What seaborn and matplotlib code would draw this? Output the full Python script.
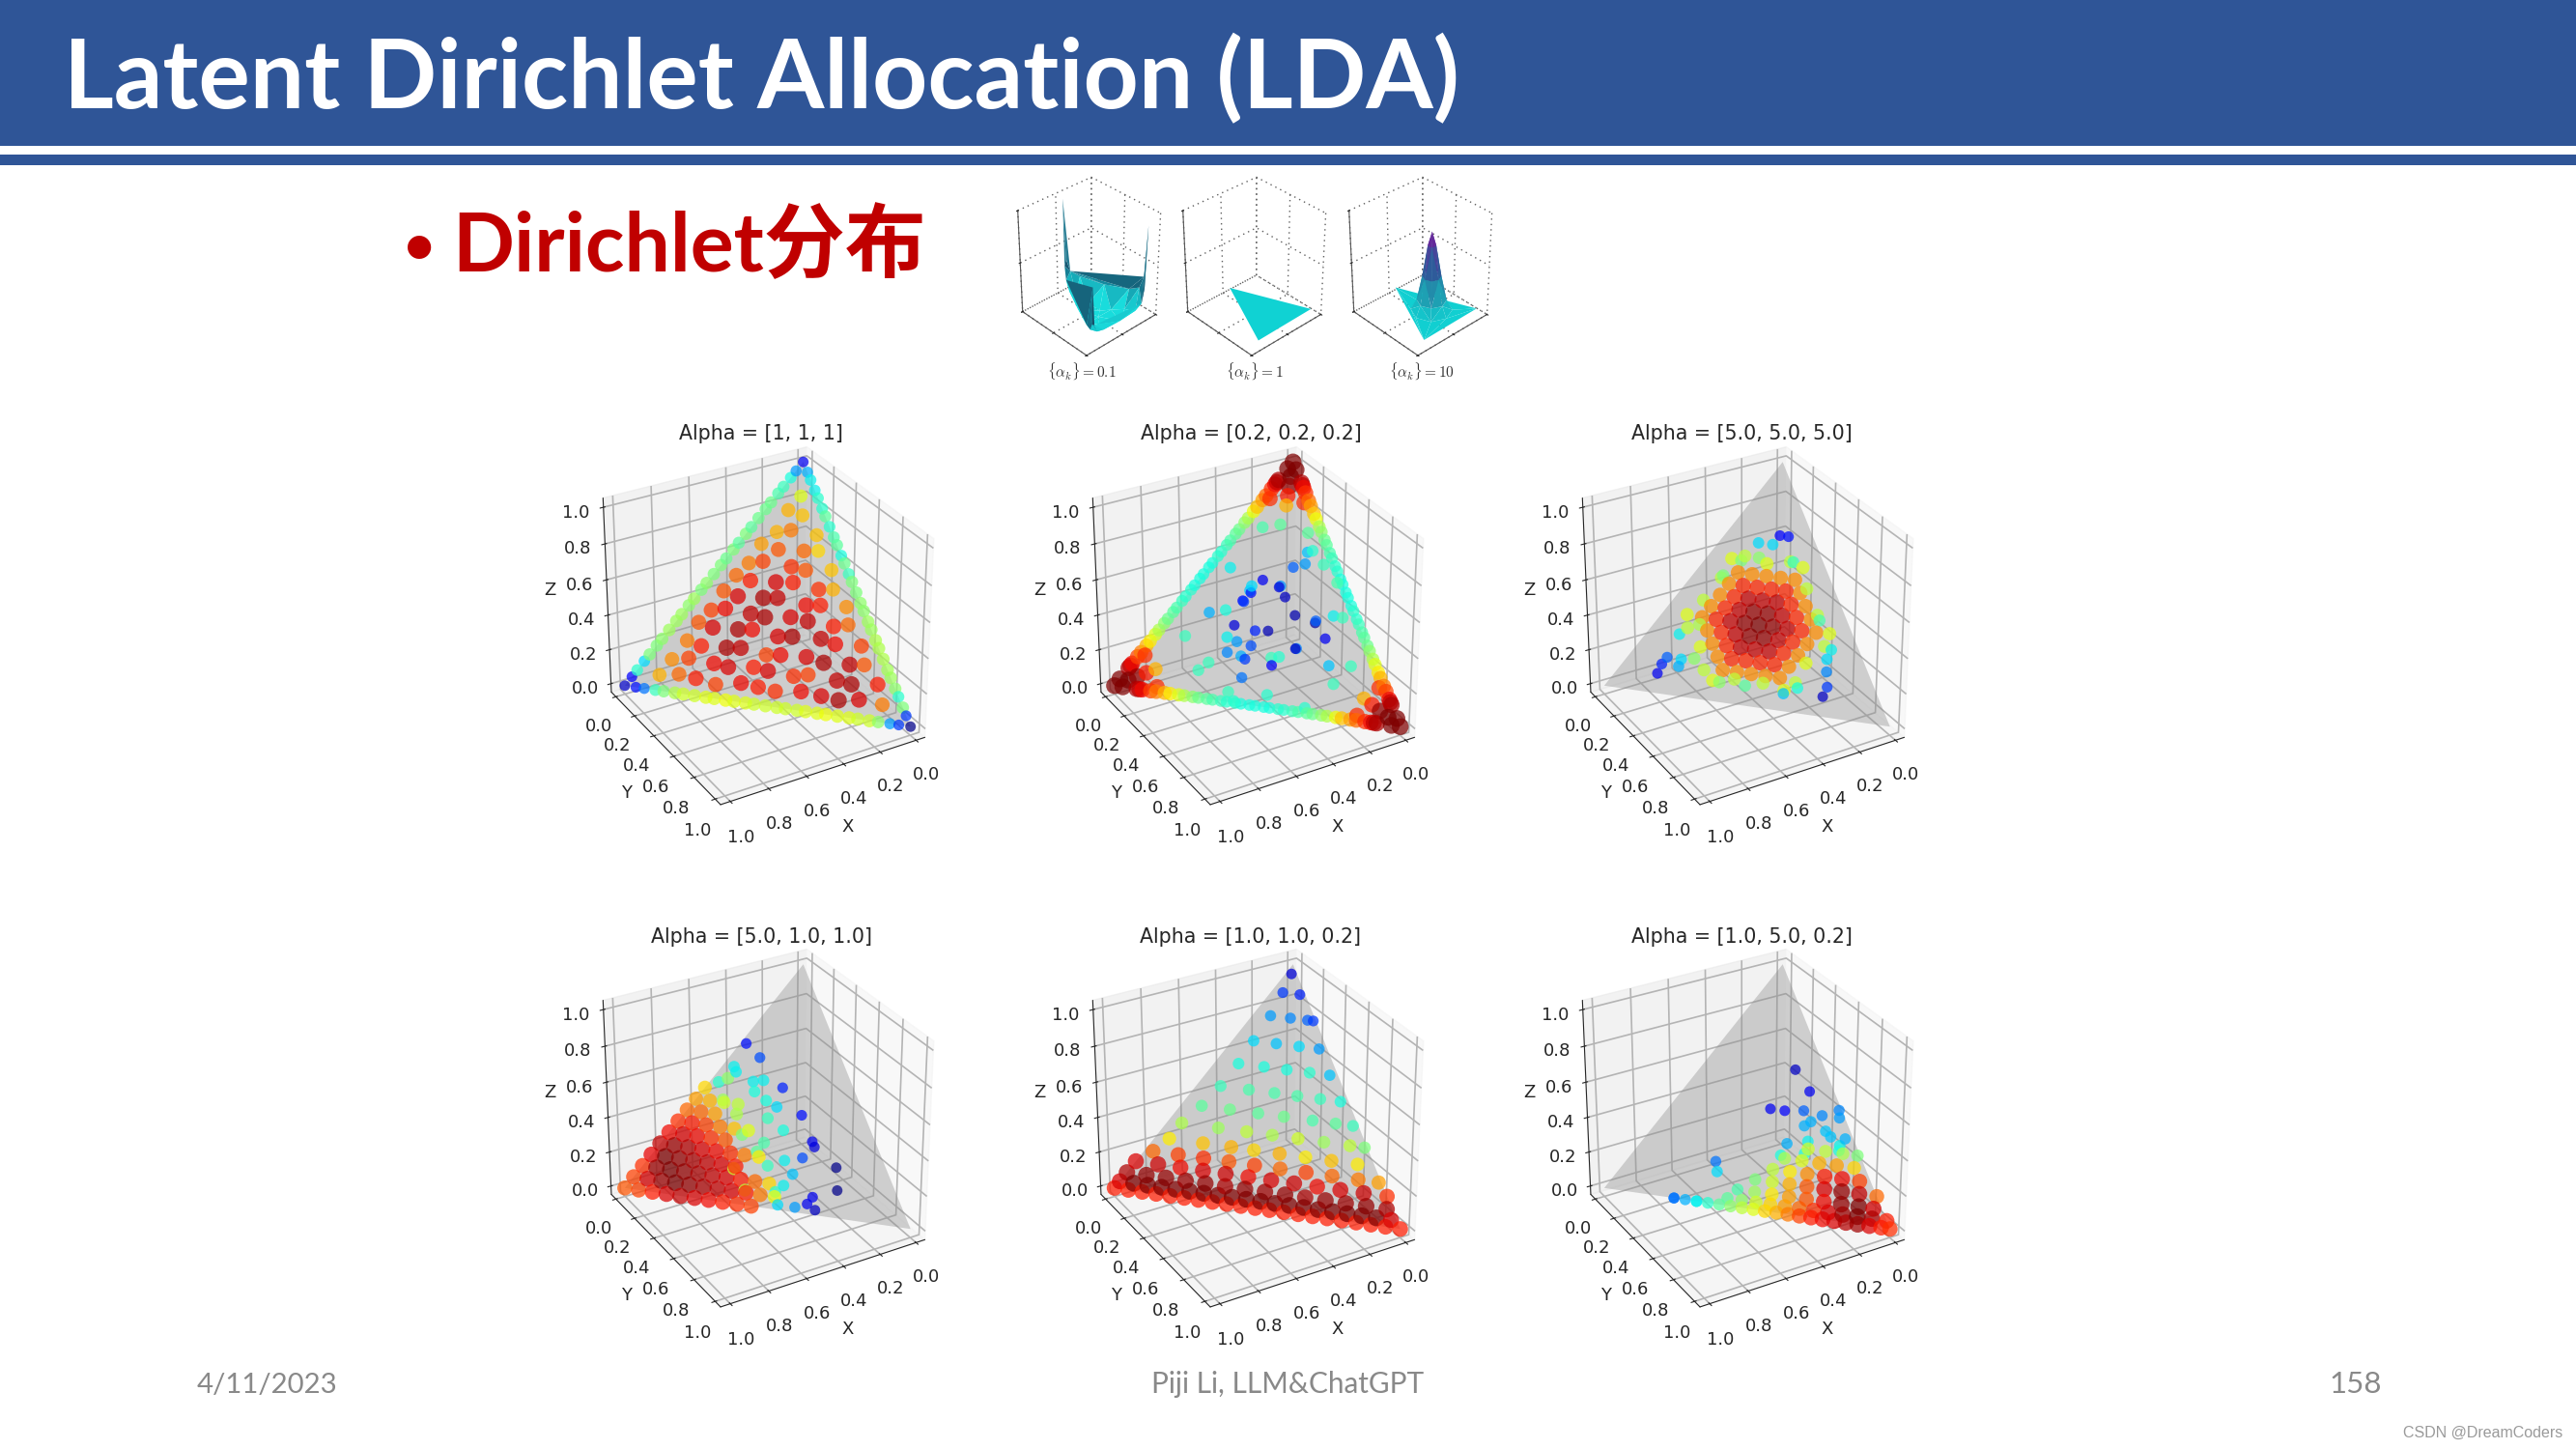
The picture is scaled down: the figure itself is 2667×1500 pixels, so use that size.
import numpy as np
import matplotlib
matplotlib.use("Agg")
import matplotlib.pyplot as plt
from matplotlib.colors import LinearSegmentedColormap
from matplotlib.patches import Rectangle
from mpl_toolkits.mplot3d.art3d import Poly3DCollection
import seaborn as sns

TITLE = "Latent Dirichlet Allocation (LDA)"
BULLET = "Dirichlet分布"
FOOT_DATE, FOOT_NAME, FOOT_PAGE = "4/11/2023", "Piji Li, LLM&ChatGPT", "158"
WATERMARK = "CSDN @DreamCoders"
TICKS = [0.0, 0.2, 0.4, 0.6, 0.8, 1.0]
SIMPLEX_X = [1, 0, 0]
SIMPLEX_Y = [0, 1, 0]
SIMPLEX_Z = [0, 0, 1]

P1_TITLE = "Alpha = [1, 1, 1]"
P1_X = [100,93,86,79,71,64,57,50,43,36,29,21,14,7,0, 96,89,82,75,68,61,54,46,39,32,25,18,11,4, 96,89,82,75,68,61,54,46,39,32,25,18,11,4, 0,0,0,0,0,0,0,0,0,0,0,0,0,0,
        93,85,78,72,65,56,50,44,35,28,22,15,7,0, 86,78,72,63,58,49,44,35,30,20,15,6,0, 79,70,65,56,51,42,37,28,22,13,8,0, 71,63,58,49,44,35,30,20,15,6,0,
        64,56,51,42,37,28,22,13,8,0, 57,49,44,35,30,20,15,6,0, 50,42,37,28,22,13,8,0, 43,35,30,20,15,6,0, 36,28,22,13,8,0, 29,20,15,6,0, 21,13,8,0, 14,6,0, 7,0, 0]
P1_Y = [0,7,14,21,29,36,43,50,57,64,71,79,86,93,100, 4,11,18,25,32,39,46,54,61,68,75,82,89,96, 0,0,0,0,0,0,0,0,0,0,0,0,0,0, 96,89,82,75,68,61,54,46,39,32,25,18,11,4,
        0,8,15,21,28,37,43,49,58,65,71,78,86,93, 0,8,14,23,28,37,42,51,56,66,71,80,86, 0,9,14,23,28,37,42,51,57,66,71,79, 0,8,13,22,27,36,41,51,56,65,71,
        0,8,13,22,27,36,42,51,56,64, 0,8,13,22,27,37,42,51,57, 0,8,13,22,28,37,42,50, 0,8,13,23,28,37,43, 0,8,14,23,28,36, 0,9,14,23,29, 0,8,13,21, 0,8,14, 0,7, 0]
P1_Z = [0,0,0,0,0,0,0,0,0,0,0,0,0,0,0, 0,0,0,0,0,0,0,0,0,0,0,0,0,0, 4,11,18,25,32,39,46,54,61,68,75,82,89,96, 4,11,18,25,32,39,46,54,61,68,75,82,89,96,
        7,6,8,7,5,8,7,6,8,7,6,8,7,7, 14,13,15,14,13,15,14,13,15,14,13,15,14, 21,22,20,21,22,20,21,22,20,21,22,21, 29,30,28,29,30,28,29,30,28,29,29,
        36,35,37,36,35,37,36,35,37,36, 43,44,42,43,44,42,43,44,43, 50,51,49,50,51,49,50,50, 57,56,58,57,56,58,57, 64,65,63,64,65,64, 71,70,72,71,71, 79,80,78,79, 86,86,86, 93,93, 100]
P1_D = [6,24,50,60,62,64,62,60,60,62,64,62,60,28,1, 14,42,56,60,62,62,60,60,60,62,62,60,52,18, 12,34,50,54,54,54,52,50,50,50,48,48,42,28, 18,40,54,56,56,54,52,50,48,46,40,40,36,30,
        40,72,80,88,84,90,88,86,90,92,96,92,78,50, 50,76,84,90,92,88,92,86,84,94,96,88,52, 52,78,88,96,94,84,90,92,96,94,82,55, 54,82,92,96,90,92,96,94,90,84,56,
        52,84,90,94,96,92,94,88,80,54, 50,82,92,96,94,90,88,76,52, 50,80,88,92,88,86,72,50, 48,78,84,86,82,70,42, 46,74,82,80,68,38, 46,72,78,70,44, 48,72,70,46, 44,62,40, 38,36, 10]

P2_TITLE = "Alpha = [0.2, 0.2, 0.2]"
P2_X = [92,87,82,77,72,67,62,57,52,47,42,37,32,27,22,17,12,8, 92,87,82,77,72,67,62,57,52,47,42,37,32,27,22,17,12,8, 0,0,0,0,0,0,0,0,0,0,0,0,0,0,0,0,0,0,
        90,85,80,75,70,65,60,55,50,45,40,35,30,25,20,15,10, 90,85,80,75,70,65,60,55,50,45,40,35,30,25,20,15,10, 0,0,0,0,0,0,0,0,0,0,0,0,0,0,0,0,0,
        100,97,97,94,91,91,90,86,82,84,84, 0,3,0,3,9,0,5,7,9,14,2, 0,3,0,3,9,0,5,7,9,14,2,
        29,35,39,24,23,21,12,46,33,35,26,13,16,47,38,39,23,68,35,45,39,52,31,34,22,18,15,7,5,6,44,37,59,48,17,45,44,56,
        6,4,8,9,18,32,44,58,66,66,39,21,14,5]
P2_Y = [8,13,18,23,28,33,38,43,48,53,58,63,68,73,78,83,88,92, 0,0,0,0,0,0,0,0,0,0,0,0,0,0,0,0,0,0, 92,87,82,77,72,67,62,57,52,47,42,37,32,27,22,17,12,8,
        10,15,20,25,30,35,40,45,50,55,60,65,70,75,80,85,90, 0,0,0,0,0,0,0,0,0,0,0,0,0,0,0,0,0, 90,85,80,75,70,65,60,55,50,45,40,35,30,25,20,15,10,
        0,3,0,3,9,0,5,7,9,14,2, 100,97,97,94,91,91,90,86,82,84,84, 0,0,3,3,0,9,5,7,9,2,14,
        21,20,19,28,32,38,42,23,33,24,47,53,49,35,45,20,43,61,20,14,13,9,12,19,26,31,37,26,50,57,62,43,53,33,63,14,11,15,
        29,36,52,70,69,66,51,38,23,10,7,7,12,23]
P2_Z = [0,0,0,0,0,0,0,0,0,0,0,0,0,0,0,0,0,0, 8,13,18,23,28,33,38,43,48,53,58,63,68,73,78,83,88,92, 8,13,18,23,28,33,38,43,48,53,58,63,68,73,78,83,88,92,
        0,0,0,0,0,0,0,0,0,0,0,0,0,0,0,0,0, 10,15,20,25,30,35,40,45,50,55,60,65,70,75,80,85,90, 10,15,20,25,30,35,40,45,50,55,60,65,70,75,80,85,90,
        0,0,3,3,0,9,5,7,9,2,14, 0,0,3,3,0,9,5,7,9,2,14, 100,97,97,94,91,91,90,86,82,84,84,
        51,45,41,49,45,37,32,31,29,25,24,29,38,18,17,41,21,15,14,10,14,33,41,48,48,60,64,63,57,41,33,20,21,19,20,19,33,8,
        65,60,40,21,13,2,5,4,11,24,54,72,74,72]
P2_D = [96,84,72,62,52,46,42,40,38,38,40,42,46,52,64,74,86,96, 96,84,72,62,52,46,42,40,38,38,40,42,46,52,64,74,86,96, 96,84,72,62,52,46,42,40,38,38,40,42,46,52,64,74,86,96,
        90,78,66,56,48,44,40,38,38,38,40,44,48,56,70,80,90, 90,78,66,56,48,44,40,38,38,38,40,44,48,56,70,80,90, 90,78,66,56,48,44,40,38,38,38,40,44,48,56,70,80,90,
        100,100,100,100,94,94,98,88,72,86,86, 100,100,100,100,94,94,98,88,72,86,86, 100,100,100,100,94,94,98,88,72,86,86,
        10,14,12,8,6,4,3,8,5,16,6,10,22,18,12,18,26,40,20,26,28,30,32,34,27,22,28,32,44,42,40,42,24,30,32,36,38,42,
        40,42,36,42,42,40,40,42,42,42,36,44,46,46]

P3_TITLE = "Alpha = [5.0, 5.0, 5.0]"
P3_X = [33,38,43,48,53, 28,33,38,43,48,53, 23,28,33,38,43,48,53, 18,23,28,33,38,43,48,53, 13,18,23,28,33,38,43,48,53, 13,18,23,28,33,38,43,48, 13,18,23,28,33,38,43, 13,18,23,28,33,38, 13,18,23,28,33,
        58,58,58,8,33,8,33,21,21, 60,60,28,12,28,12,50,50,40,10,40,10, 12,9,21,16,11,30,23,39,10,10,13,15,17,20,34,28,47,56,62,55,64,67,69,72,75,78]
P3_Y = [54,49,44,39,34, 54,49,44,39,34,29, 54,49,44,39,34,29,24, 54,49,44,39,34,29,24,19, 54,49,44,39,34,29,24,19,14, 49,44,39,34,29,24,19,14, 44,39,34,29,24,19,14, 39,34,29,24,19,14, 34,29,24,19,14,
        21,8,33,58,58,33,8,21,58, 28,12,60,60,12,28,40,10,50,50,10,40, 18,21,13,18,29,12,17,10,52,63,64,67,71,72,59,62,45,36,22,15,11,18,19,13,13,14]
P3_Z = [13,13,13,13,13, 18,18,18,18,18,18, 23,23,23,23,23,23,23, 28,28,28,28,28,28,28,28, 33,33,33,33,33,33,33,33,33, 38,38,38,38,38,38,38,38, 43,43,43,43,43,43,43, 48,48,48,48,48,48, 53,53,53,53,53,
        21,33,8,33,8,58,58,58,20, 12,28,12,28,60,60,10,40,10,40,50,50, 70,70,66,66,60,58,60,51,38,27,23,18,12,8,7,10,8,8,16,30,25,15,12,15,12,8]
P3_D = [76,76,76,76,76, 76,87,87,87,87,76, 76,87,94,94,94,87,76, 76,87,94,98,98,94,87,76, 76,87,94,98,100,98,94,87,76, 76,87,94,98,98,94,87,76, 76,87,94,94,94,87,76, 76,87,87,87,87,76, 76,76,76,76,76,
        62,62,62,62,62,62,62,62,62, 58,58,58,58,58,58,58,58,58,58,58,58, 12,14,34,34,42,50,52,50,44,36,34,26,18,6,32,38,46,52,52,56,36,34,30,22,16,10]

P4_TITLE = "Alpha = [5.0, 1.0, 1.0]"
P4_X = [100,95,90,85,80,75,70,65,60,55, 95,90,85,80,75,70,65,60,55, 90,85,80,75,70,65,60,55, 85,80,75,70,65,60,55, 80,75,70,65,60,55, 75,70,65,60,55, 70,65,60,55, 65,60,55, 60,55, 55,
        50,50,50,50,50, 45,45,45,45,45,45, 33,30,41,41,49,36,32,26,37,34,31,23,23,23,29,18,21,31,34,32,39,45,35,40,32,36,47,48,45,43,44,55,56,41,36,50]
P4_Y = [0,5,10,15,20,25,30,35,40,45, 0,5,10,15,20,25,30,35,40, 0,5,10,15,20,25,30,35, 0,5,10,15,20,25,30, 0,5,10,15,20,25, 0,5,10,15,20, 0,5,10,15, 0,5,10, 0,5, 0,
        10,20,30,40,45, 5,15,25,35,45,50, 2,10,4,6,3,14,17,25,17,23,28,38,48,50,49,62,68,62,62,66,59,53,50,50,36,28,17,24,33,40,49,39,30,33,44,9]
P4_Z = [0,0,0,0,0,0,0,0,0,0, 5,5,5,5,5,5,5,5,5, 10,10,10,10,10,10,10,10, 15,15,15,15,15,15,15, 20,20,20,20,20,20, 25,25,25,25,25, 30,30,30,30, 35,35,35, 40,40, 45,
        40,30,20,10,5, 50,40,30,20,10,5, 65,60,55,53,48,50,51,49,46,43,41,39,29,27,22,20,11,7,4,2,2,2,15,10,32,36,36,28,22,17,7,6,14,26,20,41]
P4_D = [82,84,88,92,94,92,90,88,86,84, 84,92,97,100,98,96,94,92,88, 86,97,100,98,96,94,92,88, 91,100,98,96,94,92,88, 94,97,95,92,90,86, 90,92,90,86,82, 86,88,84,78, 80,80,74, 74,72, 68,
        60,70,78,80,78, 52,58,62,66,68,64, 14,20,36,36,40,36,36,16,38,38,34,14,10,8,20,1,1,10,10,6,28,34,32,36,38,42,56,50,46,42,40,58,60,44,36,54]

P5_TITLE = "Alpha = [1.0, 1.0, 0.2]"
P5_X = [100,95,90,85,80,75,70,65,60,55,50,45,40,35,30,25,20,15,10,5,0, 97,92,87,82,77,72,67,62,57,52,47,42,37,32,27,22,17,12,7,2,
        93,86,79,72,65,58,51,44,37,30,23,16,9,2, 88,80,72,64,56,48,40,32,24,16,8,0, 80,71,62,53,44,35,26,17,8,1, 72,60,50,42,33,24,15,6,
        65,52,42,33,24,15,6,1, 55,45,35,26,16,8,2, 45,35,26,18,10,3, 35,26,18,10,3, 26,18,10,3, 16,9,3,1, 8,2, 2]
P5_Y = [0,5,10,15,20,25,30,35,40,45,50,55,60,65,70,75,80,85,90,95,100, 0,5,10,15,20,25,30,35,40,45,50,55,60,65,70,75,80,85,90,95,
        0,7,14,21,28,35,42,49,56,63,70,77,84,91, 0,8,16,24,32,40,48,56,64,72,80,88, 3,12,21,30,39,48,57,66,75,82, 5,17,27,35,44,53,62,71,
        5,18,28,37,46,55,64,69, 7,17,27,36,46,54,60, 8,18,27,35,43,50, 8,17,25,33,40, 7,15,23,30, 6,13,19,21, 4,10, 2]
P5_Z = [0,0,0,0,0,0,0,0,0,0,0,0,0,0,0,0,0,0,0,0,0, 3,3,3,3,3,3,3,3,3,3,3,3,3,3,3,3,3,3,3,3,
        7,7,7,7,7,7,7,7,7,7,7,7,7,7, 12,12,12,12,12,12,12,12,12,12,12,12, 17,17,17,17,17,17,17,17,17,17, 23,23,23,23,23,23,23,23,
        30,30,30,30,30,30,30,30, 38,38,38,38,38,38,38, 47,47,47,47,47,47, 57,57,57,57,57, 67,67,67,67, 78,78,78,78, 88,88, 96]
P5_D = [88,88,88,88,88,88,88,88,88,88,88,88,88,88,88,88,88,88,88,88,88, 92,100,100,100,100,100,100,100,100,100,100,100,100,100,100,100,100,100,100,92,
        96,98,98,97,98,96,98,97,98,96,98,97,98,96, 92,93,90,92,93,90,92,93,90,92,93,86, 80,84,86,82,84,80,84,80,78,74, 66,70,72,68,72,66,70,66,
        56,54,58,56,60,54,58,50, 46,48,46,48,44,46,42, 42,44,44,44,42,38, 38,38,38,40,32, 34,32,34,28, 28,26,22,18, 18,16, 8]

P6_TITLE = "Alpha = [1.0, 5.0, 0.2]"
P6_X = [75,71,67,63,59,55,51,47,43,39,35,31,27,23,19,15,11,7,3,0, 55,50,45,40,35,30,25,20,15,10,5,0, 50,44,38,32,26,20,14,8,3, 42,36,30,24,18,12,6,0, 34,28,22,16,10,4, 28,22,16,10,4, 18,12,6,1,
        11,9,26,21,14,8,1,2,13,16,9,8,17,3,6,25,29,20,7,54,55,75,67]
P6_Y = [25,29,33,37,41,45,49,53,57,61,65,69,73,77,81,85,89,93,97,100, 42,47,52,57,62,67,72,77,82,87,92,97, 43,49,55,61,67,73,79,85,90, 46,52,58,64,70,76,82,88, 49,55,61,67,73,79, 50,56,62,68,74, 55,61,67,72,
        31,41,33,38,44,51,55,57,49,48,56,59,53,64,64,47,48,55,65,29,32,25,33]
P6_Z = [0,0,0,0,0,0,0,0,0,0,0,0,0,0,0,0,0,0,0,0, 3,3,3,3,3,3,3,3,3,3,3,3, 7,7,7,7,7,7,7,7,7, 12,12,12,12,12,12,12,12, 17,17,17,17,17,17, 22,22,22,22,22, 27,27,27,27,
        58,50,41,41,42,41,44,41,38,36,35,33,30,33,30,28,23,25,28,17,13,0,0]
P6_D = [24,30,36,40,46,52,58,62,68,72,78,84,88,90,92,95,97,92,88,86, 46,52,60,68,74,80,86,92,97,100,96,88, 44,54,66,74,82,90,98,100,92, 50,60,72,82,92,98,94,80, 58,66,76,88,90,84, 56,62,72,74,68, 60,58,56,50,
        6,10,10,12,22,26,26,28,30,30,32,32,36,30,36,30,38,38,38,24,34,24,36]

PANEL_TITLES = [P1_TITLE, P2_TITLE, P3_TITLE, P4_TITLE, P5_TITLE, P6_TITLE]
PANEL_X = [P1_X, P2_X, P3_X, P4_X, P5_X, P6_X]
PANEL_Y = [P1_Y, P2_Y, P3_Y, P4_Y, P5_Y, P6_Y]
PANEL_Z = [P1_Z, P2_Z, P3_Z, P4_Z, P5_Z, P6_Z]
PANEL_D = [P1_D, P2_D, P3_D, P4_D, P5_D, P6_D]

# small density surfaces
S1_LABEL = r"$\{\alpha_k\} = 0.1$"
S1_X = [.45,.85,.08, .439,.42,.376,.265,.154,.11,.091, .462,.482,.53,.65,.77,.818,.838, .827,.788,.696,.465,.234,.141,.103, .46,.46,.65,.27,.46,.55,.37]
S1_Y = [.05,.93,.92, .076,.12,.224,.485,.746,.85,.894, .076,.12,.226,.49,.754,.86,.904, .93,.929,.928,.925,.922,.921,.92, .62,.25,.8,.8,.45,.7,.7]
S1_Z = [.95,.58,.88, .36,.25,.22,.20,.22,.26,.38, .30,.18,.12,.10,.10,.12,.20, .20,.12,.10,.09,.10,.14,.28, .06,.08,.08,.08,.07,.07,.07]
S2_LABEL = r"$\{\alpha_k\} = 1$"
S2_X = [.45,.85,.08]
S2_Y = [.05,.93,.92]
S2_Z = [.06,.06,.06]
S3_LABEL = r"$\{\alpha_k\} = 10$"
S3_X = [.45,.85,.08,.46, .50,.49,.46,.43,.42,.43,.46,.49, .56,.53,.46,.39,.36,.39,.46,.53, .62,.57,.46,.35,.30,.35,.46,.57, .68,.615,.46,.305,.24,.305,.46,.615]
S3_Y = [.05,.93,.92,.63, .63,.66,.67,.66,.63,.60,.59,.60, .63,.70,.73,.70,.63,.56,.53,.56, .63,.74,.79,.74,.63,.52,.47,.52, .63,.785,.85,.785,.63,.475,.41,.475]
S3_Z = [.06,.06,.06,.85, .72,.72,.72,.72,.72,.72,.72,.72, .42,.42,.42,.42,.42,.42,.42,.42, .18,.18,.18,.18,.18,.18,.18,.18, .08,.08,.08,.08,.08,.08,.08,.08]

BLUE = "#2F5597"
RED = "#C00000"
FOOT = "#898989"
INK = "#262626"
DOT_BASE, DOT_GAIN = 62, 95
DOT_ALPHA = 0.72

sns.set_style("white")
plt.rcParams["font.family"] = ["DejaVu Sans"]
jet = matplotlib.colormaps["jet"]
fig = plt.figure(figsize=(26.67, 15), dpi=100, facecolor="white")

bg = fig.add_axes([0, 0, 1, 1])
bg.set_xlim(0, 2667)
bg.set_ylim(1500, 0)
bg.axis("off")
bg.add_patch(Rectangle((0, 0), 2667, 151, color=BLUE, lw=0))
bg.add_patch(Rectangle((0, 160), 2667, 11, color=BLUE, lw=0))
bg.text(66, 112, TITLE, family="Lato", weight="bold", color="white", fontsize=71.8, va="baseline")
bg.text(418, 273, "•", family="Lato", weight="bold", color=RED, fontsize=40, va="baseline")
bg.text(468, 281, BULLET, family=["Lato", "Noto Sans CJK SC"], weight="bold", color=RED, fontsize=60.5, va="baseline")
bg.text(204, 1442, FOOT_DATE, family="Lato", color=FOOT, fontsize=21.2, va="baseline")
bg.text(1192, 1442, FOOT_NAME, family="Lato", color=FOOT, fontsize=21.4, va="baseline")
bg.text(2411, 1442, FOOT_PAGE, family="Lato", color=FOOT, fontsize=22.5, va="baseline")
bg.text(2488, 1488, WATERMARK, family="Liberation Sans", color="#9a9a9a", fontsize=11.5, va="baseline")

PANEL_CX = [787, 1294, 1801, 787, 1294, 1801]
PANEL_CY = [646, 646, 646, 1166, 1166, 1166]
TITLE_CX = [788, 1295, 1803, 788, 1295, 1803]
TITLE_Y = [455, 455, 455, 976, 976, 976]
BOX = 405

for i in range(6):
    rect = [(PANEL_CX[i] - BOX / 2) / 2667, 1 - (PANEL_CY[i] + BOX / 2) / 1500, BOX / 2667, BOX / 1500]
    ax = fig.add_axes(rect, projection="3d", computed_zorder=False)
    ax.patch.set_alpha(0)
    ax.view_init(elev=30, azim=60)
    ax.set_box_aspect((1.04, 1.04, 1))
    ax.add_collection3d(Poly3DCollection([list(zip(SIMPLEX_X, SIMPLEX_Y, SIMPLEX_Z))],
                                         facecolor="#8c8c8c", edgecolor="none", alpha=0.38, zorder=1))
    d = np.array(PANEL_D[i], float)
    order = np.argsort(d)
    x, y, z = (np.array(v, float)[order] / 100 for v in (PANEL_X[i], PANEL_Y[i], PANEL_Z[i]))
    shade = d[order] / 100
    ax.scatter(x, y, z, c=jet(shade), s=DOT_BASE + DOT_GAIN * shade ** 2, alpha=DOT_ALPHA, lw=0, depthshade=False, zorder=2)
    ax.set_xlim(-0.05, 1.05); ax.set_ylim(-0.05, 1.05); ax.set_zlim(-0.05, 1.05)
    ax.set_xticks(TICKS); ax.set_yticks(TICKS); ax.set_zticks(TICKS)
    ax.tick_params(labelsize=13, colors=INK, pad=5)
    for a, lab in ((ax.xaxis, "X"), (ax.yaxis, "Y"), (ax.zaxis, "Z")):
        a.set_label_text(lab, fontsize=13, color=INK)
        a.labelpad = 7
        a._axinfo["grid"].update(color="#b4b4b4", linewidth=1.2)
    bg.text(TITLE_CX[i], TITLE_Y[i], PANEL_TITLES[i], ha="center", va="baseline", fontsize=14.8, color=INK)

cyan_map = LinearSegmentedColormap.from_list("peak", ["#10d4d4", "#1f9cb0", "#2a5f9a", "#5b2d9a", "#8a0f9a"])
wall_map = LinearSegmentedColormap.from_list("wall", [(0, "#19dcdc"), (.08, "#19dcdc"), (.18, "#1590a5"), (.3, "#17506a"), (.6, "#2b8aa0"), (1, "#d9c8e2")])
SURF = [(S1_X, S1_Y, S1_Z, S1_LABEL, wall_map, 1125, 1120),
        (S2_X, S2_Y, S2_Z, S2_LABEL, cyan_map, 1296, 1299),
        (S3_X, S3_Y, S3_Z, S3_LABEL, cyan_map, 1468, 1472)]
for sx, sy, sz, lab, cmap, cx, tx in SURF:
    r = 185
    ax = fig.add_axes([(cx - r / 2) / 2667, 1 - (276 + r / 2) / 1500, r / 2667, r / 1500], projection="3d")
    ax.patch.set_alpha(0)
    ax.view_init(elev=34, azim=47)
    ax.set_box_aspect((1, 1, 1.25))
    ax.plot_trisurf(sx, sy, sz, cmap=cmap, vmin=0.05, vmax=0.95, linewidth=0, antialiased=True, shade=False)
    ax.set_xlim(0, 1); ax.set_ylim(0, 1); ax.set_zlim(0, 1)
    ax.set_xticks([0, .5, 1]); ax.set_yticks([0, .5, 1]); ax.set_zticks([0, .5, 1])
    ax.set_xticklabels([]); ax.set_yticklabels([]); ax.set_zticklabels([])
    ax.tick_params(length=2, width=.6)
    for a in (ax.xaxis, ax.yaxis, ax.zaxis):
        a.pane.set_visible(False)
        a._axinfo["grid"].update(color="#606060", linewidth=1.0, linestyle=(0, (1, 3)))
        a.line.set_color("#555555")
    bg.text(tx, 390, lab, ha="center", va="baseline", fontsize=11, math_fontfamily="cm", color="#333333")

fig.savefig("out.png", dpi=100)
